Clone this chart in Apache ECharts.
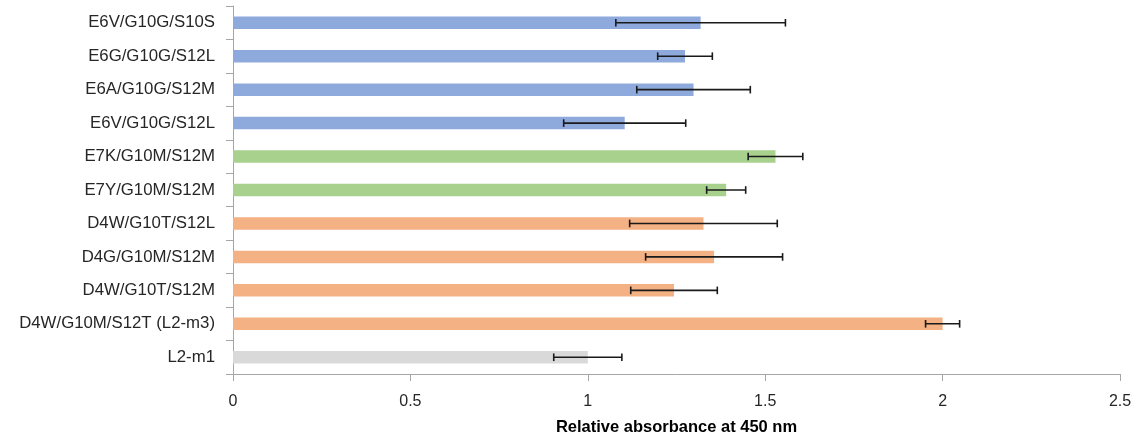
<!DOCTYPE html>
<html>
<head>
<meta charset="utf-8">
<script src="https://cdn.jsdelivr.net/npm/echarts@6/dist/echarts.min.js"></script>
<style>html,body{margin:0;padding:0;background:#fff}#c{width:1141px;height:441px}</style>
</head>
<body>
<div id="c"></div>
<script>
const categories = ['E6V/G10G/S10S','E6G/G10G/S12L','E6A/G10G/S12M','E6V/G10G/S12L','E7K/G10M/S12M','E7Y/G10M/S12M','D4W/G10T/S12L','D4G/G10M/S12M','D4W/G10T/S12M','D4W/G10M/S12T (L2-m3)','L2-m1'];
const values = [1.318, 1.274, 1.298, 1.104, 1.529, 1.390, 1.326, 1.356, 1.243, 2.0, 1.0];
const errors = [0.239, 0.077, 0.160, 0.172, 0.077, 0.055, 0.208, 0.193, 0.122, 0.048, 0.096];
const groups = ['E6','E6','E6','E6','E7','E7','D4','D4','D4','D4','L2'];
const xTicks = [0, 0.5, 1, 1.5, 2, 2.5];
const groupColors = {E6:'#8EA9DB', E7:'#A9D18E', D4:'#F4B183', L2:'#D9D9D9'};

const chart = echarts.init(document.getElementById('c'), null, {renderer:'canvas'});
const font = 'Liberation Sans';
chart.setOption({
  animation:false,
  grid:{left:233, right:21, top:6, bottom:66, containLabel:false},
  xAxis:{
    type:'value', min:xTicks[0], max:xTicks[xTicks.length-1], interval:0.5,
    name:'Relative absorbance at 450 nm', nameLocation:'middle', nameGap:45,
    nameTextStyle:{fontFamily:font, fontSize:16.5, fontWeight:'bold', color:'#000'},
    axisLine:{show:true, lineStyle:{color:'#A6A6A6', width:1}},
    axisTick:{show:true, length:7, lineStyle:{color:'#A6A6A6'}},
    axisLabel:{fontFamily:font, fontSize:16, color:'#262626', margin:20,
      formatter:v=>String(v)},
    splitLine:{show:false}
  },
  yAxis:{
    type:'category', data:categories, inverse:true,
    axisLine:{show:true, lineStyle:{color:'#A6A6A6', width:1}},
    axisTick:{show:true, length:7, interval:0, alignWithLabel:false, lineStyle:{color:'#A6A6A6'}},
    axisLabel:{fontFamily:font, fontSize:16.8, color:'#262626', margin:18, interval:0},
    splitLine:{show:false}
  },
  series:[
    {
      type:'bar', barWidth:12.5,
      data: values.map((v,i)=>({value:v, itemStyle:{color:groupColors[groups[i]]}})),
      z:2
    },
    {
      type:'custom', z:3,
      data: values.map((v,i)=>[i, v-errors[i], v+errors[i]]),
      encode:{x:[1,2], y:0},
      renderItem:function(params, api){
        const i = api.value(0);
        const lo = api.coord([api.value(1), i]);
        const hi = api.coord([api.value(2), i]);
        const h = 3.8;
        const st = {stroke:'#1a1a1a', lineWidth:1.6};
        return {type:'group', children:[
          {type:'line', shape:{x1:lo[0], y1:lo[1], x2:hi[0], y2:hi[1]}, style:st},
          {type:'line', shape:{x1:lo[0], y1:lo[1]-h, x2:lo[0], y2:lo[1]+h}, style:st},
          {type:'line', shape:{x1:hi[0], y1:hi[1]-h, x2:hi[0], y2:hi[1]+h}, style:st}
        ]};
      }
    }
  ]
});
</script>
</body>
</html>
